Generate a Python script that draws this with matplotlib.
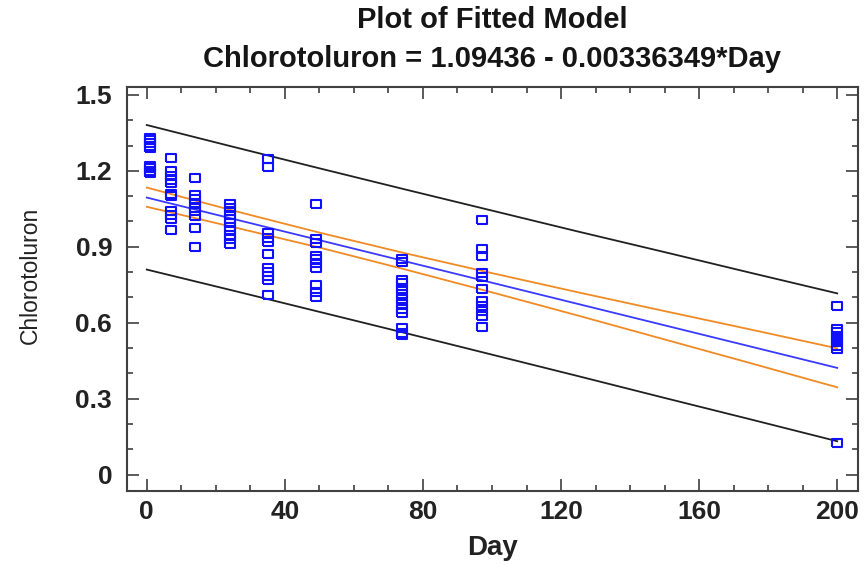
import numpy as np
import matplotlib
matplotlib.use("Agg")
import matplotlib.pyplot as plt
from matplotlib.ticker import MultipleLocator

plt.rcParams['font.family'] = ['Liberation Sans', 'DejaVu Sans']

# observed chlorotoluron per sampling day
conc_day1 = [1.33, 1.32, 1.31, 1.30, 1.29, 1.22, 1.21, 1.20, 1.19]
conc_day7 = [1.25, 1.20, 1.18, 1.165, 1.15, 1.11, 1.10, 1.04, 1.025, 1.01, 0.965]
conc_day14 = [1.17, 1.105, 1.09, 1.07, 1.055, 1.04, 1.02, 0.975, 0.90]
conc_day24 = [1.07, 1.055, 1.04, 1.025, 1.01, 0.995, 0.98, 0.965, 0.945, 0.93, 0.91]
conc_day35 = [1.245, 1.215, 0.955, 0.935, 0.92, 0.87, 0.815, 0.80, 0.785, 0.77, 0.71]
conc_day49 = [1.07, 0.93, 0.915, 0.865, 0.85, 0.835, 0.815, 0.75, 0.72, 0.70]
conc_day74 = [0.85, 0.84, 0.77, 0.755, 0.735, 0.715, 0.695, 0.675, 0.655, 0.64, 0.58, 0.56, 0.55]
conc_day97 = [1.005, 0.89, 0.865, 0.795, 0.78, 0.735, 0.685, 0.665, 0.645, 0.625, 0.585]
conc_day200 = [0.665, 0.575, 0.562, 0.549, 0.536, 0.522, 0.51, 0.495, 0.125]

sample_days = [1, 7, 14, 24, 35, 49, 74, 97, 200]
sample_conc = [conc_day1, conc_day7, conc_day14, conc_day24, conc_day35,
               conc_day49, conc_day74, conc_day97, conc_day200]

# fitted model from the title
intercept = 1.09436
slope = -0.00336349

# confidence / prediction limits
band_day = [0, 25, 50, 75, 100, 125, 150, 175, 200]
upper_conf = [1.134, 1.043, 0.956, 0.874, 0.796, 0.720, 0.646, 0.573, 0.499]
lower_conf = [1.058, 0.978, 0.897, 0.810, 0.720, 0.628, 0.534, 0.440, 0.345]
upper_pred = [1.381, 1.295, 1.210, 1.126, 1.043, 0.960, 0.879, 0.797, 0.716]
lower_pred = [0.810, 0.727, 0.643, 0.559, 0.474, 0.389, 0.303, 0.218, 0.132]

x = np.concatenate([[d] * len(v) for d, v in zip(sample_days, sample_conc)])
y = np.concatenate(sample_conc)

fig = plt.figure(figsize=(8.67, 5.65), dpi=100)
ax = fig.add_axes([0.147, 0.1317, 0.8425, 0.7138])

fit_x = np.array([0, 200])
ax.plot(band_day, upper_pred, color='#202020', lw=1.3)
ax.plot(band_day, lower_pred, color='#202020', lw=1.3)
ax.plot(band_day, upper_conf, color='#f08a24', lw=1.3)
ax.plot(band_day, lower_conf, color='#f08a24', lw=1.3)
ax.plot(fit_x, intercept + slope * fit_x, color='#3a3aff', lw=1.3)

rect = [(-1, -0.72), (1, -0.72), (1, 0.72), (-1, 0.72), (-1, -0.72)]
ax.plot(x, y, linestyle='none', marker=rect, markersize=7.5, markerfacecolor='none',
        markeredgecolor='#1010ff', markeredgewidth=1.5)

ax.set_xlim(-5.6, 206)
ax.set_ylim(-0.063, 1.53)
ax.xaxis.set_major_locator(MultipleLocator(40))
ax.xaxis.set_minor_locator(MultipleLocator(10))
ax.yaxis.set_minor_locator(MultipleLocator(0.1))
ax.set_yticks([0, 0.3, 0.6, 0.9, 1.2, 1.5])
ax.set_yticklabels(['0', '0.3', '0.6', '0.9', '1.2', '1.5'])

for s in ax.spines.values():
    s.set_color('#404040')
    s.set_linewidth(1.5)
ax.tick_params(which='both', direction='in', top=True, right=True, color='#404040')
ax.tick_params(which='major', length=8.5, width=1.2, labelsize=19)
ax.tick_params(which='minor', length=4.3, width=1.2)
ax.tick_params(axis='x', pad=7)
ax.tick_params(axis='y', pad=11)
for lab in ax.get_xticklabels() + ax.get_yticklabels():
    lab.set_fontweight('bold')
    lab.set_color('#222222')

fig.text(0.568, 0.964, 'Plot of Fitted Model', ha='center', va='center',
         fontsize=21, fontweight='bold', color='#151515')
fig.text(0.568, 0.896, 'Chlorotoluron = 1.09436 - 0.00336349*Day', ha='center', va='center',
         fontsize=21, fontweight='bold', color='#151515')
fig.text(0.568, 0.03, 'Day', ha='center', va='center', fontsize=20, fontweight='bold',
         color='#222222')
fig.text(0.035, 0.512, 'Chlorotoluron', ha='center', va='center', rotation=90,
         fontsize=16.5, color='#222222')

plt.savefig('out.png', dpi=100)
